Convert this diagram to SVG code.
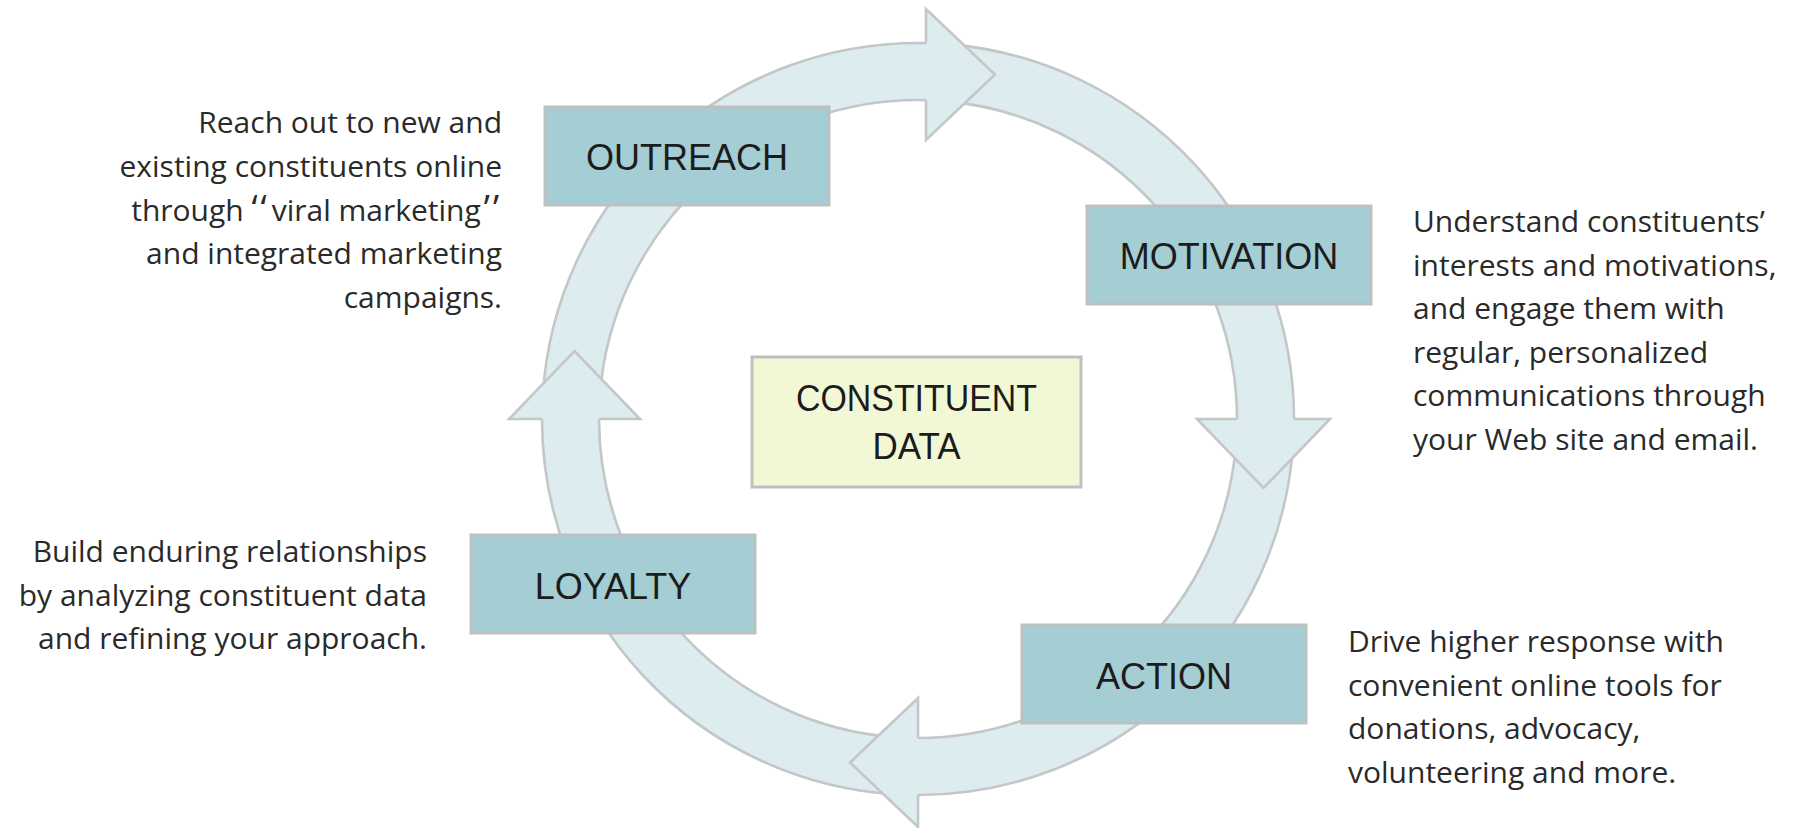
<svg xmlns="http://www.w3.org/2000/svg" width="1796" height="828" viewBox="0 0 1796 828">
  <style>
    .ring { fill: #ddecef; stroke: none; }
    .edge { fill: none; stroke: #c4c6c7; stroke-width: 2.6; stroke-linejoin: miter; }
    .head { fill: #ddecef; stroke: none; }
    .box { fill: #a4cdd4; stroke: #bcc0c1; stroke-width: 3; }
    .core { fill: #f2f8d6; stroke: #bcc0c1; stroke-width: 3; }
    .label { font-family: "Liberation Sans", Arial, sans-serif; font-size: 36px; fill: #1c1c1c; text-anchor: middle; }
    .note { font-family: "Open Sans", "Noto Sans", sans-serif; font-size: 30px; fill: #2a2a2a; }
    .right { text-anchor: end; }
    .q { font-size: 36px; letter-spacing: 3px; }
  </style>

  <!-- cycle ring with four curved arrows -->
  <g id="connectors">
    <path class="ring" fill-rule="evenodd" d="M 542 419 A 376 376 0 1 1 1294 419 A 376 376 0 1 1 542 419 Z M 599 419 A 319 319 0 1 0 1237 419 A 319 319 0 1 0 599 419 Z"/>

    <!-- arc outlines, each tail tucked under the previous arrowhead -->
    <path class="edge" d="M 542.77 395 A 376 376 0 0 1 926 43.09 M 599.9 395 A 319 319 0 0 1 926 100.1"/>
    <path class="edge" d="M 950 44.36 A 376 376 0 0 1 1294 419 M 950 101.61 A 319 319 0 0 1 1237 419"/>
    <path class="edge" d="M 1293.23 443 A 376 376 0 0 1 918 795 M 1236.1 443 A 319 319 0 0 1 918 738"/>
    <path class="edge" d="M 894 794.23 A 376 376 0 0 1 542 419 M 894 737.1 A 319 319 0 0 1 599 419"/>

    <!-- arrowheads -->
    <polygon class="head" points="926,9 995,74.5 926,140"/>
    <polyline class="edge" points="926,43.09 926,9 995,74.5 926,140 926,100.1"/>

    <polygon class="head" points="1330,419 1263.5,488 1197,419"/>
    <polyline class="edge" points="1294,419 1330,419 1263.5,488 1197,419 1237,419"/>

    <polygon class="head" points="918,827 850,762.5 918,698"/>
    <polyline class="edge" points="918,795 918,827 850,762.5 918,698 918,738"/>

    <polygon class="head" points="509,419 574.5,351 640,419"/>
    <polyline class="edge" points="542,419 509,419 574.5,351 640,419 599,419"/>
  </g>

  <g id="node-outreach">
    <rect class="box" x="545" y="107" width="284" height="98"/>
    <text class="label" x="687" y="170">OUTREACH</text>
  </g>

  <g id="node-motivation">
    <rect class="box" x="1087" y="206" width="284" height="98"/>
    <text class="label" x="1229" y="269">MOTIVATION</text>
  </g>

  <g id="node-action">
    <rect class="box" x="1022" y="625" width="284" height="98"/>
    <text class="label" x="1164" y="689">ACTION</text>
  </g>

  <g id="node-loyalty">
    <rect class="box" x="471" y="535" width="284" height="98"/>
    <text class="label" x="613" y="599">LOYALTY</text>
  </g>

  <g id="node-constituent-data">
    <rect class="core" x="752" y="357" width="329" height="130"/>
    <text class="label" x="916.5" y="411" textLength="241" lengthAdjust="spacingAndGlyphs">CONSTITUENT</text>
    <text class="label" x="916.5" y="459" textLength="88" lengthAdjust="spacingAndGlyphs">DATA</text>
  </g>

  <g id="note-outreach" class="note right">
    <text x="502" y="133">Reach out to new and</text>
    <text x="502" y="177">existing constituents online</text>
    <text x="502" y="220.5">through <tspan class="q">‘‘</tspan><tspan dx="2">viral marketing</tspan><tspan class="q" dx="3">’’</tspan></text>
    <text x="502" y="264">and integrated marketing</text>
    <text x="502" y="308">campaigns.</text>
  </g>

  <g id="note-motivation" class="note">
    <text x="1413" y="232">Understand constituents’</text>
    <text x="1413" y="275.5">interests and motivations,</text>
    <text x="1413" y="319">and engage them with</text>
    <text x="1413" y="362.5">regular, personalized</text>
    <text x="1413" y="406">communications through</text>
    <text x="1413" y="450">your Web site and email.</text>
  </g>

  <g id="note-action" class="note">
    <text x="1348" y="652">Drive higher response with</text>
    <text x="1348" y="695.5">convenient online tools for</text>
    <text x="1348" y="739">donations, advocacy,</text>
    <text x="1348" y="782.5">volunteering and more.</text>
  </g>

  <g id="note-loyalty" class="note right">
    <text x="427" y="562">Build enduring relationships</text>
    <text x="427" y="605.5">by analyzing constituent data</text>
    <text x="427" y="649">and refining your approach.</text>
  </g>
</svg>
